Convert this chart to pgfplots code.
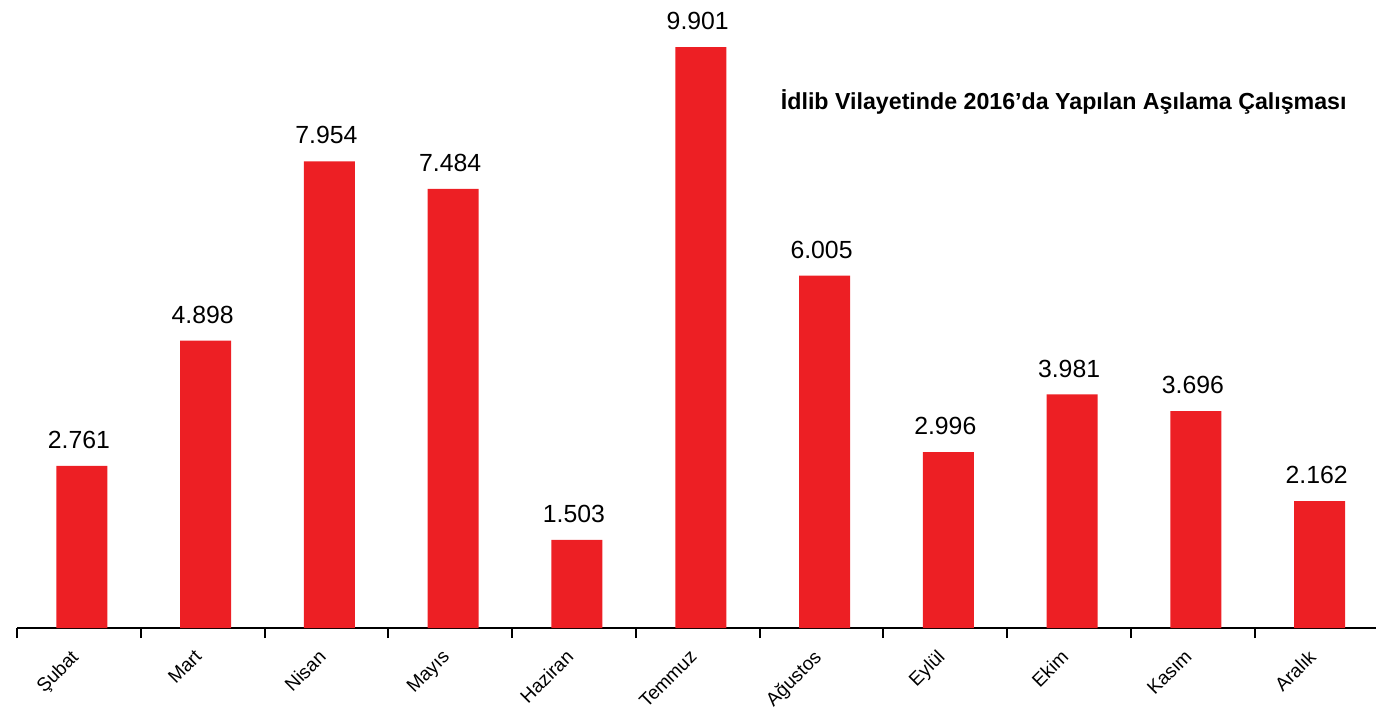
\documentclass[border=0pt]{standalone}
\usepackage{fontspec}
\setmainfont{Liberation Sans}
\usepackage{pgfplots}
\pgfplotsset{compat=1.18}
\definecolor{barred}{HTML}{ED1F24}

\begin{document}
\begin{tikzpicture}
\path[use as bounding box] (0,0) rectangle (688pt,354.5pt);
\begin{axis}[
    at={(39.45pt,40.5pt)}, anchor=origin,
    scale only axis, width=679.5pt, height=314pt,
    xmin=-0.5, xmax=10.48, ymin=0, ymax=10702,
    axis x line*=bottom, axis y line=none,
    axis line style={black, line width=1pt, -},
    xtick={0,...,10},
    xticklabels={Şubat,Mart,Nisan,Mayıs,Haziran,Temmuz,Ağustos,Eylül,Ekim,Kasım,Aralık},
    major tick length=0pt,
    minor xtick={-0.5,0.5,...,9.5},
    minor tick length=5pt,
    tick align=outside,
    minor tick style={black, line width=1pt},
    xticklabel style={rotate=45, anchor=north east, font=\fontsize{9.5}{11}\selectfont, xshift=-7pt, yshift=-0.5pt},
    ytick=\empty,
    /pgf/number format/assume math mode=true,
    clip=false,
]
\addplot[ybar, bar width=25.5pt, bar shift=1.5pt, fill=barred, draw=none,
    nodes near coords={\pgfmathprintnumber[1000 sep={.}]{\pgfplotspointmeta}},
    nodes near coords style={font=\fontsize{12.4}{14}\selectfont, anchor=south, yshift=5pt}]
  coordinates {(0,2761) (1,4898) (2,7954) (3,7484) (4,1503) (5,9901)
               (6,6005) (7,2996) (8,3981) (9,3696) (10,2162)};
\end{axis}
\node[anchor=east, font=\fontsize{11.6}{13}\selectfont\bfseries, inner sep=0pt] at (673.5pt,303.5pt)
  {İdlib Vilayetinde 2016’da Yapılan Aşılama Çalışması};
\end{tikzpicture}
\end{document}
